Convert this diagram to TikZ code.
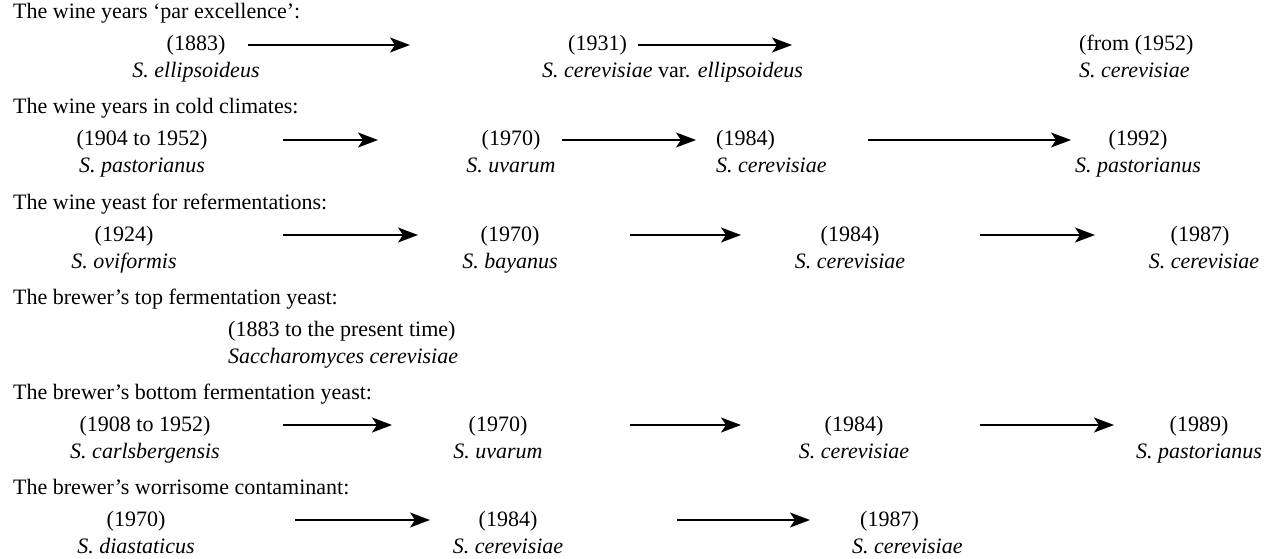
\documentclass[tikz,border=0pt]{standalone}
\usepackage{fontspec}
\setmainfont{Liberation Serif}
\usetikzlibrary{arrows.meta}
\begin{document}
\begin{tikzpicture}[x=1pt,y=-1pt,
  txt/.style={inner sep=0pt, anchor=base, font=\fontsize{22}{26}\selectfont},
  lt/.style={txt, anchor=base west},
  arr/.style={line width=1.6pt, -{Stealth[length=20pt,width=15pt,inset=5pt]}}]
\useasboundingbox (0,0) rectangle (1270,559);
% ---------- Row 1
\node[lt] (h1) at (13,19) {The wine years ‘par excellence’:};
\node[txt] (y11) at (196,51) {(1883)};
\node[txt] (s11) at (196,78) {\itshape S. ellipsoideus};
\node[lt] (y12) at (568,51) {(1931)};
\node[lt] (s12) at (542,78) {\textit{S. cerevisiae} var. \textit{ellipsoideus}};
\node[lt] (y13) at (1079,51) {(from (1952)};
\node[lt] (s13) at (1079,78) {\itshape S. cerevisiae};
\coordinate (a11s) at (248,45); \coordinate (a11e) at (410,45);
\coordinate (a12s) at (638,45); \coordinate (a12e) at (792,45);
\draw[arr] (a11s) -- (a11e);
\draw[arr] (a12s) -- (a12e);
% ---------- Row 2
\node[lt] (h2) at (13,114) {The wine years in cold climates:};
\node[txt] (y21) at (142,146) {(1904 to 1952)};
\node[txt] (s21) at (142,173) {\itshape S. pastorianus};
\node[txt] (y22) at (511,146) {(1970)};
\node[txt] (s22) at (511,173) {\itshape S. uvarum};
\node[lt] (y23) at (716,146) {(1984)};
\node[lt] (s23) at (716,173) {\itshape S. cerevisiae};
\node[txt] (y24) at (1138,146) {(1992)};
\node[txt] (s24) at (1138,173) {\itshape S. pastorianus};
\coordinate (a21s) at (283,140); \coordinate (a21e) at (378,140);
\coordinate (a22s) at (562,140); \coordinate (a22e) at (696,140);
\coordinate (a23s) at (868,140); \coordinate (a23e) at (1071,140);
\draw[arr] (a21s) -- (a21e);
\draw[arr] (a22s) -- (a22e);
\draw[arr] (a23s) -- (a23e);
% ---------- Row 3
\node[lt] (h3) at (13,209) {The wine yeast for refermentations:};
\node[txt] (y31) at (124,241) {(1924)};
\node[txt] (s31) at (124,268) {\itshape S. oviformis};
\node[txt] (y32) at (510,241) {(1970)};
\node[txt] (s32) at (510,268) {\itshape S. bayanus};
\node[txt] (y33) at (850,241) {(1984)};
\node[txt] (s33) at (850,268) {\itshape S. cerevisiae};
\node[txt] (y34) at (1200,241) {(1987)};
\node[txt] (s34) at (1204,268) {\itshape S. cerevisiae};
\coordinate (a31s) at (283,235); \coordinate (a31e) at (418,235);
\coordinate (a32s) at (630,235); \coordinate (a32e) at (741,235);
\coordinate (a33s) at (980,235); \coordinate (a33e) at (1095,235);
\draw[arr] (a31s) -- (a31e);
\draw[arr] (a32s) -- (a32e);
\draw[arr] (a33s) -- (a33e);
% ---------- Row 4
\node[lt] (h4) at (13,304) {The brewer’s top fermentation yeast:};
\node[lt] (y41) at (228,336) {(1883 to the present time)};
\node[lt] (s41) at (228,363) {\itshape Saccharomyces cerevisiae};
% ---------- Row 5
\node[lt] (h5) at (13,399) {The brewer’s bottom fermentation yeast:};
\node[txt] (y51) at (145,431) {(1908 to 1952)};
\node[txt] (s51) at (145,458) {\itshape S. carlsbergensis};
\node[txt] (y52) at (498,431) {(1970)};
\node[txt] (s52) at (498,458) {\itshape S. uvarum};
\node[txt] (y53) at (854,431) {(1984)};
\node[txt] (s53) at (854,458) {\itshape S. cerevisiae};
\node[txt] (y54) at (1199,431) {(1989)};
\node[txt] (s54) at (1199,458) {\itshape S. pastorianus};
\coordinate (a51s) at (283,425); \coordinate (a51e) at (392,425);
\coordinate (a52s) at (630,425); \coordinate (a52e) at (741,425);
\coordinate (a53s) at (980,425); \coordinate (a53e) at (1114,425);
\draw[arr] (a51s) -- (a51e);
\draw[arr] (a52s) -- (a52e);
\draw[arr] (a53s) -- (a53e);
% ---------- Row 6
\node[lt] (h6) at (13,494) {The brewer’s worrisome contaminant:};
\node[txt] (y61) at (136,526) {(1970)};
\node[txt] (s61) at (136,553) {\itshape S. diastaticus};
\node[txt] (y62) at (508,526) {(1984)};
\node[txt] (s62) at (508,553) {\itshape S. cerevisiae};
\node[lt] (y63) at (860,526) {(1987)};
\node[lt] (s63) at (852,553) {\itshape S. cerevisiae};
\coordinate (a61s) at (295,520); \coordinate (a61e) at (430,520);
\coordinate (a62s) at (677,520); \coordinate (a62e) at (810,520);
\draw[arr] (a61s) -- (a61e);
\draw[arr] (a62s) -- (a62e);
\end{tikzpicture}
\end{document}
